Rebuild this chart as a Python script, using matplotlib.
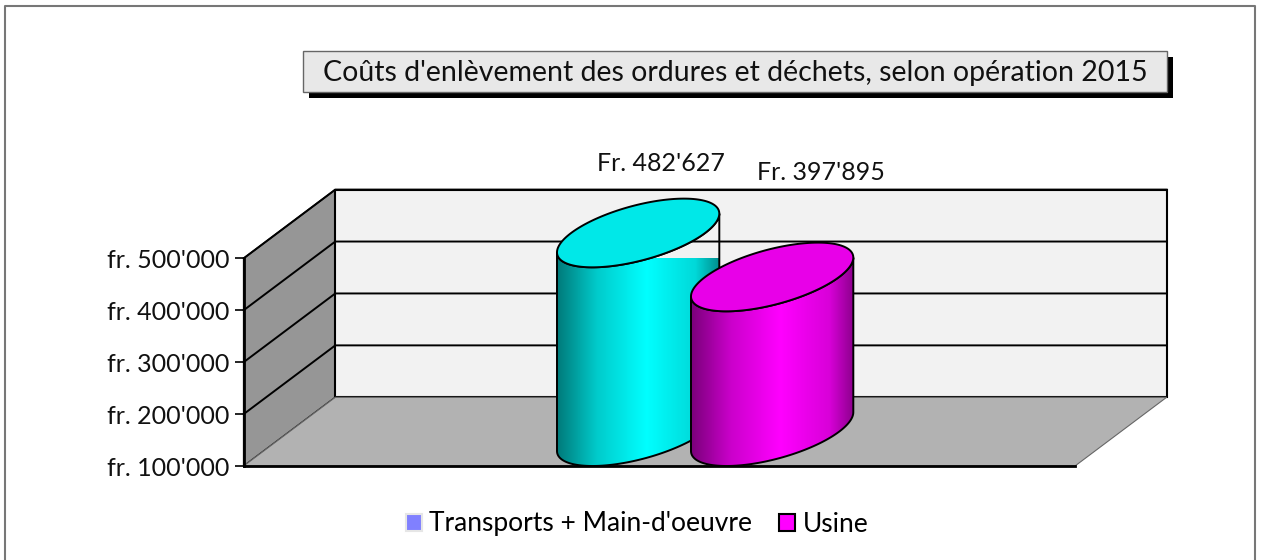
import numpy as np
import matplotlib
matplotlib.use('Agg')
import matplotlib.pyplot as plt
from matplotlib.colors import LinearSegmentedColormap
from matplotlib.lines import Line2D
from matplotlib.patches import Patch, PathPatch, Polygon, Rectangle
from matplotlib.path import Path

title = "Coûts d'enlèvement des ordures et déchets, selon opération 2015"
series = ["Transports + Main-d'oeuvre", "Usine"]
values = [482627, 397895]
value_labels = ["Fr. 482'627", "Fr. 397'895"]
yticks = [100000, 200000, 300000, 400000, 500000]
ytick_labels = ["fr. 100'000", "fr. 200'000", "fr. 300'000", "fr. 400'000", "fr. 500'000"]
legend_colors = ['#8080ff', '#ff00ff']
side_colors = ['#00ffff', '#ff00ff']
top_colors = ['#00e8e8', '#e800e8']

W, H = 1262, 560
plt.rcParams['font.family'] = ['Lato', 'DejaVu Sans']
fig = plt.figure(figsize=(W / 100, H / 100), dpi=100, facecolor='white')

# front plane of the fake 3d box, in pixels of the picture
left, right, top, bottom = 243.7, 1075.0, 258.3, 466.0
ax = fig.add_axes([left / W, 1 - bottom / H, (right - left) / W, (bottom - top) / H])
ax.set_xlim(0, 1)
ax.set_ylim(100000, 500000)
ax.patch.set_visible(False)

# depth vector of the box in data units
DX = 91.6 / (right - left)
DY = 68.7 / (bottom - top) * 400000
ymin, ymax = 100000, 500000

# walls
ax.add_patch(Polygon([(0, ymin), (DX, ymin + DY), (DX, ymax + DY), (0, ymax)], closed=True,
                     fc='#969696', ec='#222222', lw=1.2, clip_on=False, zorder=1))
ax.add_patch(Polygon([(DX, ymin + DY), (1 + DX, ymin + DY), (1 + DX, ymax + DY), (DX, ymax + DY)], closed=True,
                     fc='#f2f2f2', ec='black', lw=1.5, clip_on=False, zorder=1))
ax.add_patch(Polygon([(0, ymin), (1, ymin), (1 + DX, ymin + DY), (DX, ymin + DY)], closed=True,
                     fc='#b2b2b2', ec='#666666', lw=0.8, clip_on=False, zorder=1))
for v in yticks[1:-1] + [yticks[-1]]:
    ax.plot([0, DX, 1 + DX], [v, v + DY, v + DY], color='black', lw=1.4, clip_on=False, zorder=2)

# cylinders
bar_w = 0.1612
centers = [0.5 - bar_w / 2, 0.5 + bar_w / 2]
b = DX / 2
h = DY / 2
t0 = np.arctan2(b, bar_w / 2)
stops = [(0, 0.48), (0.25, 0.8), (0.55, 1.0), (0.85, 0.85), (1, 0.55)]


def ellipse(cx, v, t):
    return (cx + b + bar_w / 2 * np.cos(t) + b * np.sin(t), v + h + h * np.sin(t))


for i, v in enumerate(values):
    cx = centers[i]
    front = np.linspace(t0, t0 - np.pi, 80)
    xb, yb = ellipse(cx, ymin, front)
    xt, yt = ellipse(cx, v, front[::-1])
    verts = np.column_stack([np.r_[xb, xt], np.r_[yb, yt]])
    side = PathPatch(Path(np.vstack([verts, verts[0]]), closed=True), fc='none', ec='black', lw=1.4,
                     clip_on=False, zorder=3 + 2 * i + 0.5)
    ax.add_patch(side)
    # horizontal shading
    rgb = np.array(matplotlib.colors.to_rgb(side_colors[i]))
    cmap = LinearSegmentedColormap.from_list('shade', [(p, tuple(rgb * s)) for p, s in stops])
    half = np.hypot(bar_w / 2, b)
    img = ax.imshow(np.linspace(0, 1, 256).reshape(1, -1), cmap=cmap, aspect='auto',
                    extent=[cx + b - half, cx + b + half, ymin, v + DY], zorder=3 + 2 * i, clip_on=True)
    img.set_clip_path(PathPatch(Path(np.vstack([verts, verts[0]]), closed=True), transform=ax.transData))
    tt = np.linspace(0, 2 * np.pi, 160)
    xe, ye = ellipse(cx, v, tt)
    ax.add_patch(Polygon(np.column_stack([xe, ye]), closed=True, fc=top_colors[i], ec='black', lw=1.4,
                         clip_on=False, zorder=3 + 2 * i + 0.6))

ax.set_xlim(0, 1)
ax.set_ylim(100000, 500000)

# value labels
label_pos = [(661, 163), (821, 173)]
for i, s in enumerate(value_labels):
    fig.text(label_pos[i][0] / W, 1 - label_pos[i][1] / H, s, ha='center', va='center', fontsize=18, color='#111111')

# axes
ax.set_xticks([])
ax.set_yticks(yticks, ytick_labels)
ax.tick_params(axis='y', length=6.5, width=1.2, labelsize=18, pad=4, labelcolor='#111111')
for s in ['top', 'right']:
    ax.spines[s].set_visible(False)
for s in ['left', 'bottom']:
    ax.spines[s].set_linewidth(2)
    ax.spines[s].set_zorder(2.5)

# outer frame, open at the bottom
fig.add_artist(Line2D(np.array([5, 5, 1254.5, 1254.5]) / W, 1 - np.array([560, 6, 6, 560]) / H,
                      color='#777777', lw=1.5))

# title box with its shadow
fig.add_artist(Rectangle((309 / W, 1 - 98 / H), 864 / W, 41 / H, fc='black', ec='none'))
fig.add_artist(Rectangle((303 / W, 1 - 92 / H), 864 / W, 41 / H, fc='#e8e8e8', ec='#666666', lw=1))
fig.text(735 / W, 1 - 73 / H, title, ha='center', va='center', fontsize=20.5, color='#111111')

handles = [Patch(fc=legend_colors[0], ec='#e6e6e6', lw=1.5), Patch(fc=legend_colors[1], ec='black', lw=1.5)]
fig.legend(handles, series, loc='center', bbox_to_anchor=(637 / W, 1 - 524 / H), ncols=2, frameon=False,
           fontsize=19, handlelength=0.6, handleheight=0.6, handletextpad=0.3, columnspacing=1.0)

fig.savefig('out.png', dpi=100)
